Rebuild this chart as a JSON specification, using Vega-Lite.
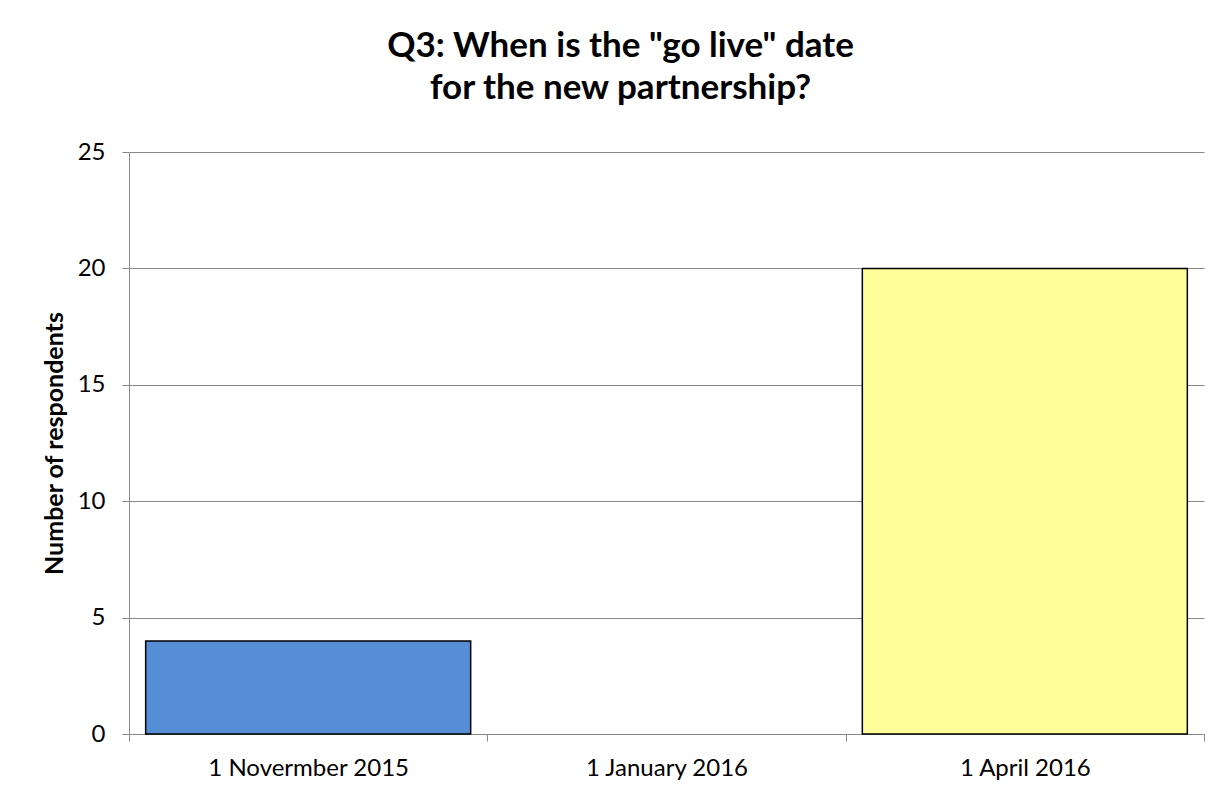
{
  "$schema": "https://vega.github.io/schema/vega-lite/v6.json",
  "width": 1075,
  "height": 582,
  "autosize": {"type": "none"},
  "padding": {"left": 129, "top": 152, "right": 28, "bottom": 64},
  "background": "white",
  "title": {
    "text": ["Q3: When is the \"go live\" date", "for the new partnership?"],
    "font": "Lato",
    "fontSize": 35,
    "fontWeight": "bold",
    "color": "#000000",
    "lineHeight": 42,
    "anchor": "middle",
    "dx": -46,
    "offset": 34
  },
  "data": {
    "values": [
      {"date": "1 Novermber 2015", "count": 4, "colour": "blue"},
      {"date": "1 January 2016", "count": 0, "colour": "none"},
      {"date": "1 April 2016", "count": 20, "colour": "yellow"}
    ]
  },
  "mark": {"type": "bar", "strokeWidth": 1.5, "width": {"band": 0.907}},
  "encoding": {
    "x": {
      "field": "date",
      "type": "nominal",
      "sort": null,
      "scale": {"paddingInner": 0, "paddingOuter": 0},
      "axis": {
        "title": null,
        "labelAngle": 0,
        "labelFont": "Lato",
        "labelFontSize": 24,
        "labelColor": "#000000",
        "labelLimit": 0,
        "labelPadding": 15,
        "tickBand": "extent",
        "tickSize": 7,
        "tickColor": "#888888",
        "domainColor": "#888888",
        "grid": false
      }
    },
    "y": {
      "field": "count",
      "type": "quantitative",
      "scale": {"domain": [0, 25], "nice": false},
      "axis": {
        "title": "Number of respondents",
        "titleFont": "Lato",
        "titleFontSize": 25,
        "titleFontWeight": "bold",
        "titleColor": "#000000",
        "titlePadding": 10,
        "values": [0, 5, 10, 15, 20, 25],
        "labelFont": "Lato",
        "labelFontSize": 24,
        "labelColor": "#000000",
        "labelPadding": 17,
        "tickSize": 7,
        "tickColor": "#888888",
        "domainColor": "#888888",
        "gridColor": "#888888",
        "gridWidth": 1
      }
    },
    "color": {
      "field": "colour",
      "type": "nominal",
      "scale": {"domain": ["blue", "none", "yellow"], "range": ["#558ED5", "#ffffff", "#FFFF99"]},
      "legend": null
    },
    "stroke": {
      "condition": {"test": "datum.count > 0", "value": "#000000"},
      "value": null
    }
  },
  "config": {"view": {"stroke": null}}
}
